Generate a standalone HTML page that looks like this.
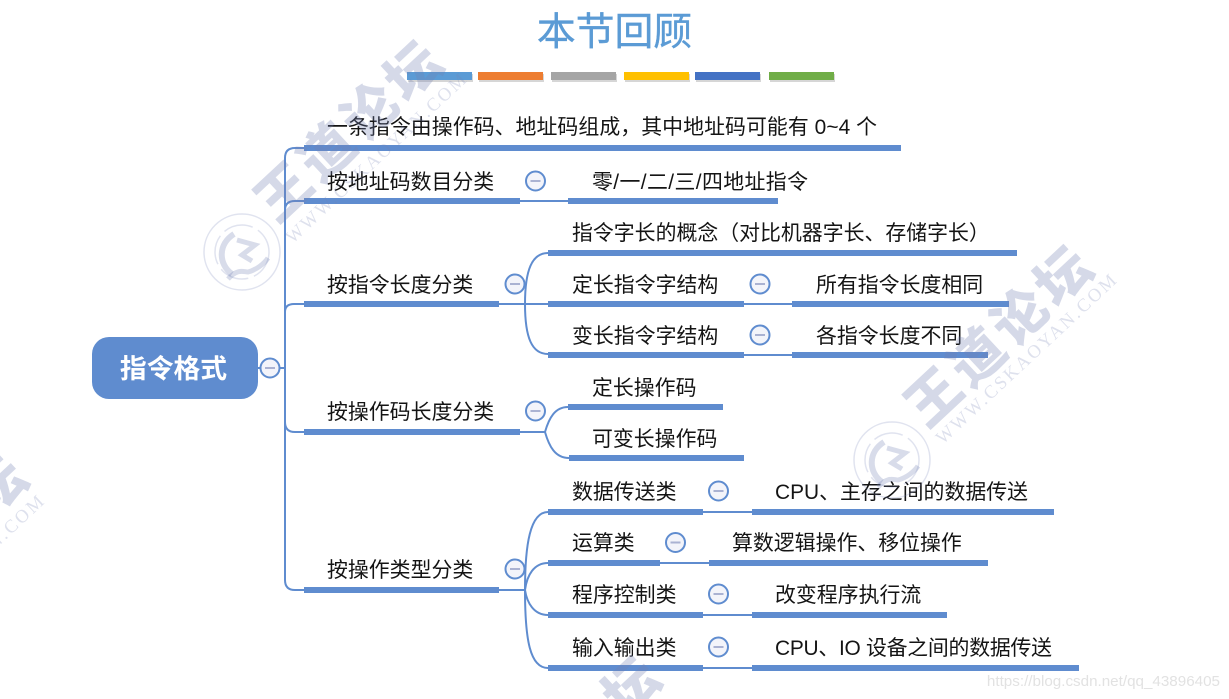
<!DOCTYPE html>
<html lang="zh">
<head>
<meta charset="utf-8">
<title>本节回顾</title>
<style>
html,body{margin:0;padding:0;background:#fff;width:1229px;height:699px;overflow:hidden}
body{position:relative}
svg{display:block}
text{font-family:"Liberation Sans","Noto Sans CJK SC",sans-serif}
.t{font-size:20.9px;fill:#141414}
.b{fill:#5f8ccf}
.l{fill:none;stroke:#5f8ccf;stroke-width:2}
.c{fill:#f3f4fa;stroke:#5f8ccf;stroke-width:2}
.m{stroke:#aab2d2;stroke-width:2}
.wm{font-size:54px;font-weight:900;fill:#7480b4;fill-opacity:.3;letter-spacing:5px}
.ww{font-family:"Liberation Serif",serif;font-size:18.5px;fill:#7480b4;fill-opacity:.24;letter-spacing:2.4px}
.r1{fill:none;stroke:#7480b4;stroke-opacity:.22;stroke-width:1.5}
.r2{fill:none;stroke:#7480b4;stroke-opacity:.28;stroke-width:6}
.wrap{position:absolute;left:0;top:0;width:1229px;height:699px;overflow:hidden;pointer-events:none}
</style>
</head>
<body>
<svg style="position:absolute;left:0;top:0" width="1229" height="699" viewBox="0 0 1229 699" xmlns="http://www.w3.org/2000/svg">
<rect width="1229" height="699" fill="#fff"/>

<!-- title -->
<text x="614.5" y="45" text-anchor="middle" style="font-size:38.8px;font-weight:400" stroke="#5b9bd5" stroke-width=".4" fill="#5b9bd5">本节回顾</text>
<g>
<rect x="408" y="74" width="65" height="8" fill="#bbb" opacity=".6"/>
<rect x="479" y="74" width="65" height="8" fill="#bbb" opacity=".6"/>
<rect x="552" y="74" width="65" height="8" fill="#bbb" opacity=".6"/>
<rect x="625" y="74" width="65" height="8" fill="#bbb" opacity=".6"/>
<rect x="696" y="74" width="65" height="8" fill="#bbb" opacity=".6"/>
<rect x="770" y="74" width="65" height="8" fill="#bbb" opacity=".6"/>
<rect x="407" y="72" width="65" height="8" fill="#5b9bd5"/>
<rect x="478" y="72" width="65" height="8" fill="#ed7d31"/>
<rect x="551" y="72" width="65" height="8" fill="#a5a5a5"/>
<rect x="624" y="72" width="65" height="8" fill="#ffc000"/>
<rect x="695" y="72" width="65" height="8" fill="#4472c4"/>
<rect x="769" y="72" width="65" height="8" fill="#70ad47"/>
</g>

<!-- connectors -->
<path class="l" d="M258,368H285"/>
<path class="l" d="M304,148H295Q285,148 285,158V580Q285,590 295,590H304"/>
<path class="l" d="M285,210Q285,201 295,201H304"/>
<path class="l" d="M285,312Q285,304 294,304H304"/>
<path class="l" d="M285,422Q285,432 295,432H304"/>
<path class="l" d="M520,201H568"/>
<path class="l" d="M499,304H525"/>
<path class="l" d="M548,253C532,253 525,270 525,304C525,338 532,354 548,354"/>
<path class="l" d="M525,304H548"/>
<path class="l" d="M744,304H792"/>
<path class="l" d="M744,355H792"/>
<path class="l" d="M520,432H545"/>
<path class="l" d="M568,407C555,407 549,418 545,432C549,446 555,458 569,458"/>
<path class="l" d="M499,590H525"/>
<path class="l" d="M548,512C530,512 525,545 525,590C525,640 530,668 548,668"/>
<path class="l" d="M548,563C534,563 527,575 525,590C527,603 534,615 548,615"/>
<path class="l" d="M703,512H752"/>
<path class="l" d="M660,563H709"/>
<path class="l" d="M703,615H752"/>
<path class="l" d="M703,668H752"/>

<!-- bars -->
<rect class="b" x="304" y="145" width="597" height="6"/>
<rect class="b" x="304" y="198" width="216" height="6"/>
<rect class="b" x="568" y="198" width="210" height="6"/>
<rect class="b" x="304" y="301" width="195" height="6"/>
<rect class="b" x="548" y="250" width="469" height="6"/>
<rect class="b" x="548" y="301" width="196" height="6"/>
<rect class="b" x="792" y="301" width="217" height="6"/>
<rect class="b" x="548" y="352" width="196" height="6"/>
<rect class="b" x="792" y="352" width="196" height="6"/>
<rect class="b" x="304" y="429" width="216" height="6"/>
<rect class="b" x="568" y="404" width="155" height="6"/>
<rect class="b" x="569" y="455" width="175" height="6"/>
<rect class="b" x="304" y="587" width="195" height="6"/>
<rect class="b" x="548" y="509" width="155" height="6"/>
<rect class="b" x="752" y="509" width="302" height="6"/>
<rect class="b" x="548" y="560" width="112" height="6"/>
<rect class="b" x="709" y="560" width="279" height="6"/>
<rect class="b" x="548" y="612" width="155" height="6"/>
<rect class="b" x="752" y="612" width="195" height="6"/>
<rect class="b" x="548" y="665" width="155" height="6"/>
<rect class="b" x="752" y="665" width="327" height="6"/>

<!-- root -->
<rect x="92" y="337" width="166" height="62" rx="17" fill="#5f8ccf"/>
<text x="173.500" y="378" text-anchor="middle" style="font-size:26.8px;font-weight:700" fill="#fff">指令格式</text>

<!-- collapse circles -->
<g>
<circle class="c" cx="270" cy="368" r="9.5"/><path class="m" d="M265,368H275"/>
<circle class="c" cx="535.500" cy="181" r="9.500"/><path class="m" d="M530.500,181H540.500"/>
<circle class="c" cx="515" cy="284" r="9.500"/><path class="m" d="M510,284H520"/>
<circle class="c" cx="760" cy="284" r="9.500"/><path class="m" d="M755,284H765"/>
<circle class="c" cx="760" cy="335" r="9.500"/><path class="m" d="M755,335H765"/>
<circle class="c" cx="535.500" cy="411" r="9.500"/><path class="m" d="M530.500,411H540.500"/>
<circle class="c" cx="515" cy="569" r="9.500"/><path class="m" d="M510,569H520"/>
<circle class="c" cx="718.500" cy="491" r="9.500"/><path class="m" d="M713.500,491H723.500"/>
<circle class="c" cx="675.500" cy="542.500" r="9.500"/><path class="m" d="M670.500,542.500H680.500"/>
<circle class="c" cx="718.500" cy="594" r="9.500"/><path class="m" d="M713.500,594H723.500"/>
<circle class="c" cx="718.500" cy="647" r="9.500"/><path class="m" d="M713.500,647H723.500"/>
</g>

<!-- labels -->
<text class="t" x="327" y="134" textLength="550" lengthAdjust="spacing">一条指令由操作码、地址码组成，其中地址码可能有 0~4 个</text>
<text class="t" x="327" y="189">按地址码数目分类</text>
<text class="t" x="592" y="189" textLength="216" lengthAdjust="spacing">零/一/二/三/四地址指令</text>
<text class="t" x="572" y="240">指令字长的概念（对比机器字长、存储字长）</text>
<text class="t" x="327" y="292">按指令长度分类</text>
<text class="t" x="572" y="292">定长指令字结构</text>
<text class="t" x="816" y="292">所有指令长度相同</text>
<text class="t" x="572" y="343">变长指令字结构</text>
<text class="t" x="816" y="343">各指令长度不同</text>
<text class="t" x="327" y="419">按操作码长度分类</text>
<text class="t" x="592" y="395">定长操作码</text>
<text class="t" x="592" y="446">可变长操作码</text>
<text class="t" x="327" y="577">按操作类型分类</text>
<text class="t" x="572" y="499">数据传送类</text>
<text class="t" x="775" y="499">CPU、主存之间的数据传送</text>
<text class="t" x="572" y="550">运算类</text>
<text class="t" x="732" y="550">算数逻辑操作、移位操作</text>
<text class="t" x="572" y="602">程序控制类</text>
<text class="t" x="775" y="602">改变程序执行流</text>
<text class="t" x="572" y="655">输入输出类</text>
<text class="t" x="775" y="655" textLength="277" lengthAdjust="spacing">CPU、IO 设备之间的数据传送</text>

<!-- watermarks fully inside the frame -->
<g transform="translate(277,224.500) rotate(-43)"><text class="wm" x="0" y="0">王道论坛</text><text class="ww" x="-2" y="25">WWW.CSKAOYAN.COM</text></g>
<g transform="translate(927,429.500) rotate(-43)"><text class="wm" x="0" y="0">王道论坛</text><text class="ww" x="1" y="22">WWW.CSKAOYAN.COM</text></g>

<!-- logos -->
<g transform="translate(242,252)">
<circle class="r1" r="38"/><circle class="r1" r="27" stroke-dasharray="30 6"/>
<path class="r2" d="M-8,-18C-24,-8 -24,12 -10,22"/>
<path class="r2" style="stroke-width:5" d="M-5,-12L13,-7L0,3L10,9M-14,27C-4,16 2,20 6,20C14,18 22,12 26,6"/>
</g>
<g transform="translate(892,460)">
<circle class="r1" r="38"/><circle class="r1" r="27" stroke-dasharray="30 6"/>
<path class="r2" d="M-8,-18C-24,-8 -24,12 -10,22"/>
<path class="r2" style="stroke-width:5" d="M-5,-12L13,-7L0,3L10,9M-14,27C-4,16 2,20 6,20C14,18 22,12 26,6"/>
</g>

<!-- source mark -->
<text x="1220" y="686" text-anchor="end" style="font-size:15.200px" fill="#e2e2e2">https://blog.csdn.net/qq_43896405</text>
</svg>

<!-- watermarks cut by the frame edge -->
<div class="wrap">
<svg width="1229" height="699" viewBox="0 0 1229 699" xmlns="http://www.w3.org/2000/svg">
<g transform="translate(-138,639.500) rotate(-43)"><text class="wm" x="118" y="0">论坛</text><text class="ww" x="96" y="25">AOYAN.COM</text></g>
<g transform="translate(495,840) rotate(-43)"><text class="wm" x="177" y="0">坛</text></g>
</svg>
</div>
</body>
</html>
